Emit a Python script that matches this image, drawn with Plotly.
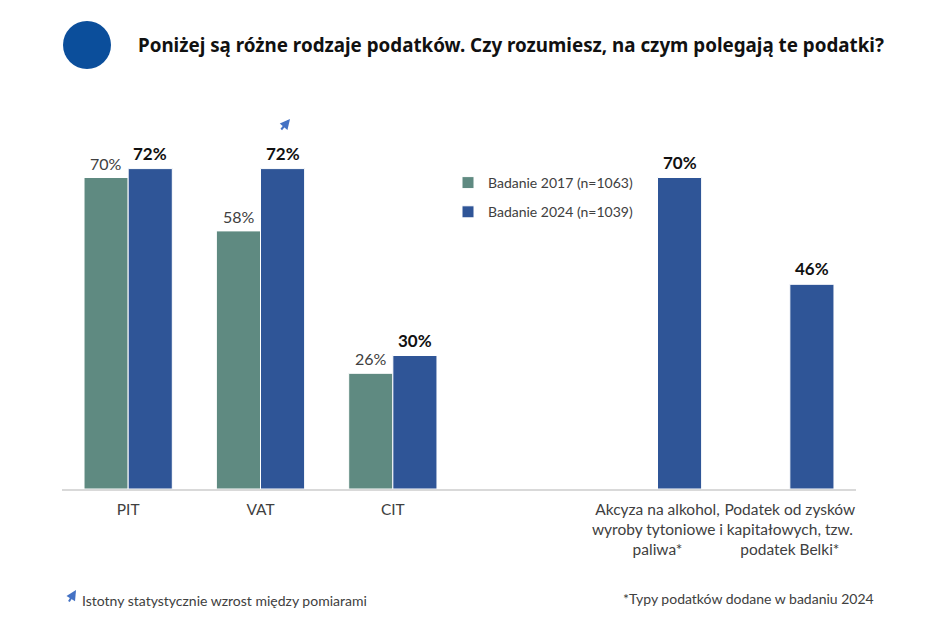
import plotly.graph_objects as go

# categories (blank slot separates the two groups)
categories = ["PIT", "VAT", "CIT", " ",
              "Akcyza na alkohol,<br>wyroby tytoniowe i<br>paliwa*",
              "Podatek od zysków<br>kapitałowych, tzw.<br>podatek Belki*"]
values_2017 = [70, 58, 26, None, None, None]
values_2024 = [72, 72, 30, None, 70, 46]
series_names = ["Badanie 2017 (n=1063)", "Badanie 2024 (n=1039)"]

# page has an 8px body margin, so the figure is a bit smaller than the window
OFF = 8
W, H = 940, 626
L, R, T, B = 54, 92, 125, 145
pw, ph = W - L - R, H - T - B


def px(x, y):
    # screenshot pixel position -> paper coords
    return (x - OFF - L) / pw, (H - B - (y - OFF)) / ph


fig = go.Figure()
fig.add_trace(go.Bar(
    x=categories, y=values_2017, name=series_names[0],
    marker=dict(color="#5F8A81", line=dict(color="white", width=1)),
    legendgroup="a",
))
fig.add_trace(go.Bar(
    x=categories, y=values_2024, name=series_names[1],
    marker=dict(color="#2F5597", line=dict(color="white", width=1)),
    legendgroup="b",
))

annotations = []
# value labels
for cat, v in zip(categories, values_2017):
    if v is not None:
        annotations.append(dict(x=cat, y=v, xshift=-22, yshift=3, yanchor="bottom",
                                text=f"{v}%", showarrow=False,
                                font=dict(size=16, color="#404040", family="Lato")))
for cat, v in zip(categories, values_2024):
    if v is not None:
        annotations.append(dict(x=cat, y=v, xshift=22, yshift=3, yanchor="bottom",
                                text=f"<b>{v}%</b>", showarrow=False,
                                font=dict(size=17, color="#111111", family="Lato")))

# title circle
cx0, cy0 = px(63, 21)
cx1, cy1 = px(111, 69)
fig.add_shape(type="circle", xref="paper", yref="paper",
              x0=cx0, y0=cy1, x1=cx1, y1=cy0,
              fillcolor="#0B4E9B", line=dict(width=0))

tx, ty = px(136, 45)
annotations.append(dict(
    x=tx, y=ty, xref="paper", yref="paper", xanchor="left", yanchor="middle",
    text="<b>Poniżej są różne rodzaje podatków. Czy rozumiesz, na czym polegają te podatki?</b>",
    showarrow=False, font=dict(size=18.8, color="#111111", family="Noto Sans")))

# significance arrow over VAT 2024
ax_, ay_ = px(290, 119)
annotations.append(dict(x=ax_, y=ay_, xref="paper", yref="paper", text="",
                        showarrow=True, ax=-10, ay=12, arrowhead=2, arrowsize=1,
                        arrowwidth=2, arrowcolor="#4472C4"))
# footnote arrow
fx, fy = px(76, 590)
annotations.append(dict(x=fx, y=fy, xref="paper", yref="paper", text="",
                        showarrow=True, ax=-8, ay=13, arrowhead=2, arrowsize=1,
                        arrowwidth=2, arrowcolor="#4472C4"))
nx, ny = px(80, 600)
annotations.append(dict(x=nx, y=ny, xref="paper", yref="paper", xanchor="left", yanchor="middle",
                        text="Istotny statystycznie wzrost między pomiarami", showarrow=False,
                        font=dict(size=14, color="#404040", family="Lato")))
sx, sy = px(876, 598)
annotations.append(dict(x=sx, y=sy, xref="paper", yref="paper", xanchor="right", yanchor="middle",
                        text="*Typy podatków dodane w badaniu 2024", showarrow=False,
                        font=dict(size=14, color="#404040", family="Lato")))

lx, ly = px(448, 167)
fig.update_layout(
    width=W, height=H,
    margin=dict(l=L, r=R, t=T, b=B),
    paper_bgcolor="white", plot_bgcolor="white",
    barmode="group", bargap=0.333, bargroupgap=0,
    showlegend=True,
    legend=dict(x=lx, y=ly, xanchor="left", yanchor="top",
                font=dict(size=14, color="#404040", family="Lato"),
                tracegroupgap=8, itemwidth=30, bgcolor="rgba(0,0,0,0)"),
    xaxis=dict(showline=True, linecolor="#D9D9D9", linewidth=2, ticks="",
               tickangle=0, ticklabelstandoff=5,
               tickfont=dict(size=15.5, color="#404040", family="Lato"),
               showgrid=False),
    yaxis=dict(range=[0, 80], visible=False, showgrid=False),
    annotations=annotations,
    font=dict(family="Lato"),
)

fig.write_html("out.html")
